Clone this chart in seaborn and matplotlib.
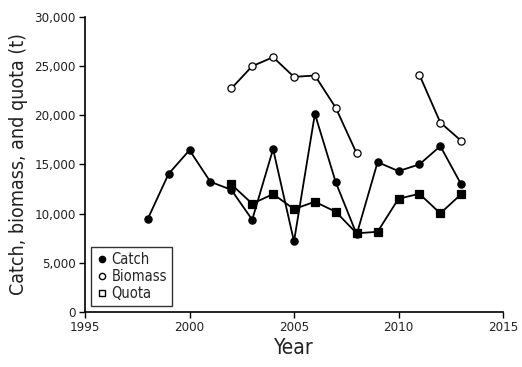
import numpy as np
import pandas as pd
import seaborn as sns
import matplotlib.pyplot as plt
from matplotlib.lines import Line2D
from matplotlib.ticker import FuncFormatter

years = list(range(1998, 2014))
catch = [9450, 14050, 16460, 13240, 12430, 9380, 16570, 7180,
         20150, 13180, 7890, 15240, 14330, 15010, 16870, 12980]
biomass_years = [2002, 2003, 2004, 2005, 2006, 2007, 2008, 2011, 2012, 2013]
biomass = [22730, 25000, 25910, 23910, 24050, 20760, 16120, 24120, 19270, 17410]
biomass_run = [1, 1, 1, 1, 1, 1, 1, 2, 2, 2]
quota_years = list(range(2002, 2014))
quota = [12980, 11010, 11990, 10470, 11210, 10190, 8000, 8160,
         11520, 12020, 10030, 11990]

sns.set_style("ticks")
plt.rcParams['font.family'] = ['DejaVu Sans']
plt.rcParams['font.stretch'] = 'condensed'

df_catch = pd.DataFrame({"Year": years, "value": catch})
df_bio = pd.DataFrame({"Year": biomass_years, "value": biomass, "run": biomass_run})
df_quota = pd.DataFrame({"Year": quota_years, "value": quota})

fig = plt.figure(figsize=(5.22, 3.67), dpi=100)
ax = fig.add_axes([85 / 522, 1 - 312 / 367, 418 / 522, 295 / 367])

line_kw = dict(color="black", linewidth=1.3, markersize=5.2, markeredgecolor="black",
               markeredgewidth=0.9, legend=False)
sns.lineplot(data=df_quota, x="Year", y="value", ax=ax, marker="s",
             markerfacecolor="black", **line_kw)
sns.lineplot(data=df_catch, x="Year", y="value", ax=ax, marker="o",
             markerfacecolor="black", **line_kw)
for r in sorted(set(biomass_run)):
    sns.lineplot(data=df_bio[df_bio["run"] == r], x="Year", y="value", ax=ax,
                 marker="o", markerfacecolor="white", **line_kw)

ax.set_xlim(1995, 2015)
ax.set_ylim(0, 30000)
ax.set_xticks([1995, 2000, 2005, 2010, 2015])
ax.set_yticks(range(0, 30001, 5000))
ax.yaxis.set_major_formatter(FuncFormatter(lambda v, p: f"{int(v):,}"))
ax.tick_params(labelsize=9.5, length=4.5, width=1, pad=2, color="black", labelcolor="#222222")
for s in ["left", "bottom"]:
    ax.spines[s].set_linewidth(1.2)
    ax.spines[s].set_color("black")
sns.despine(ax=ax)
ax.set_xlabel("Year", fontsize=15, color="#222222", labelpad=3)
ax.set_ylabel("Catch, biomass, and quota (t)", fontsize=14, color="#222222", labelpad=5)

handles = [
    Line2D([], [], linestyle="none", marker="o", color="black", markerfacecolor="black", markersize=4.5),
    Line2D([], [], linestyle="none", marker="o", color="black", markerfacecolor="white", markersize=4.5),
    Line2D([], [], linestyle="none", marker="s", color="black", markerfacecolor="white", markersize=4.5),
]
leg = ax.legend(handles, ["Catch", "Biomass", "Quota"], loc="lower left",
                bbox_to_anchor=(0.015, 0.02), fontsize=10.5, frameon=True, fancybox=False,
                edgecolor="black", handletextpad=0.25, handlelength=0.8,
                borderpad=0.35, labelspacing=0.15, borderaxespad=0)
leg.get_frame().set_linewidth(1.0)

fig.savefig("out.png", dpi=100)
